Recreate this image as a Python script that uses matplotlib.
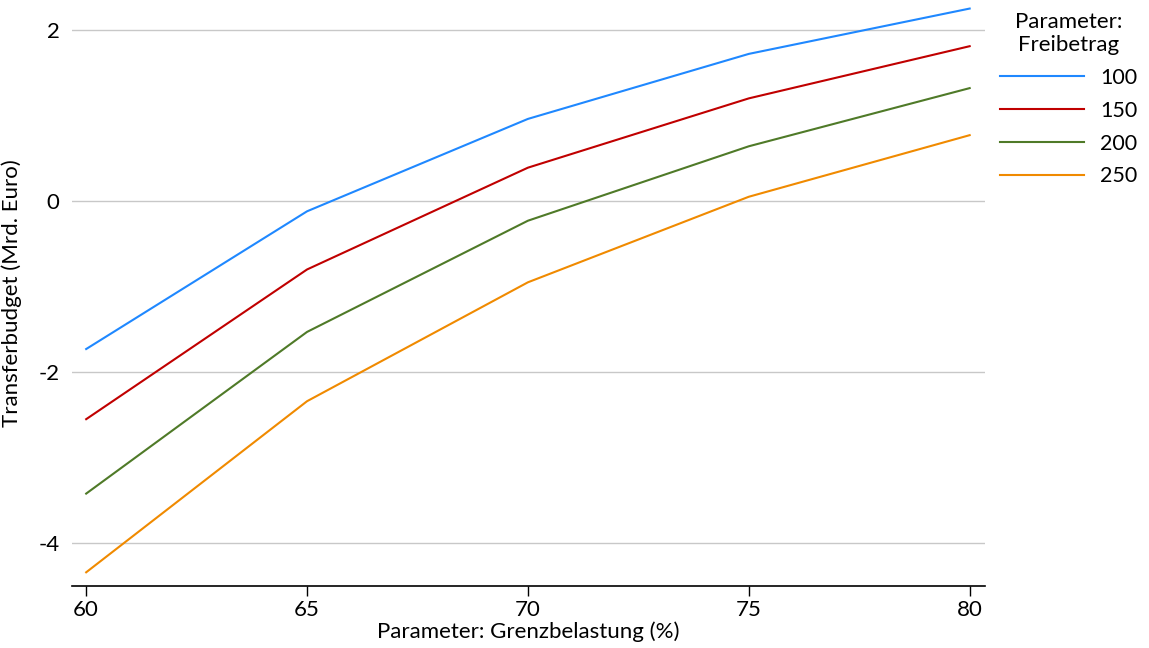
import numpy as np
import matplotlib
matplotlib.use("Agg")
from matplotlib import pyplot as plt

plt.rcParams['font.family'] = ['Lato', 'DejaVu Sans']
plt.rcParams['axes.unicode_minus'] = False

# Daten
grenzbelastung = [60, 65, 70, 75, 80]
freibetrag = ['100', '150', '200', '250']
budget_100 = [-1.73, -0.12, 0.96, 1.72, 2.25]
budget_150 = [-2.55, -0.80, 0.39, 1.20, 1.81]
budget_200 = [-3.42, -1.53, -0.23, 0.64, 1.32]
budget_250 = [-4.34, -2.34, -0.95, 0.05, 0.77]
farben = ['#1f88ff', '#c00000', '#4f7a28', '#f08a00']

fig = plt.figure(figsize=(11.49, 6.48), dpi=100)
ax = fig.add_axes([0.0627, 0.0957, 0.7943, 0.9043])

for serie, name, farbe in zip([budget_100, budget_150, budget_200, budget_250],
                              freibetrag, farben):
    ax.plot(grenzbelastung, serie, color=farbe, lw=1.5, label=name)

ax.set_xlim(59.68, 80.34)
ax.set_ylim(-4.5, 2.35)
ax.set_xticks([60, 65, 70, 75, 80])
ax.set_yticks([-4, -2, 0, 2])
ax.yaxis.grid(True, color='#c8c8c8', lw=1)
ax.set_axisbelow(True)
for s in ['top', 'right', 'left']:
    ax.spines[s].set_visible(False)
ax.spines['bottom'].set_linewidth(1.2)
ax.tick_params(axis='y', length=0, labelsize=16, pad=9)
ax.tick_params(axis='x', length=7, width=1, labelsize=16, pad=3)
ax.set_xlabel('Parameter: Grenzbelastung (%)', fontsize=16, labelpad=1)
ax.set_ylabel('Transferbudget (Mrd. Euro)', fontsize=16, labelpad=12)

leg = ax.legend(title='Parameter:\nFreibetrag', loc='upper left',
                bbox_to_anchor=(1.0, 1.006), frameon=False, fontsize=15.5,
                title_fontsize=16, handlelength=3.9, handletextpad=0.75,
                labelspacing=0.6, borderpad=0.2)
leg._legend_box.align = 'center'
leg.get_title().set_multialignment('center')

fig.savefig('out.png', dpi=100)
